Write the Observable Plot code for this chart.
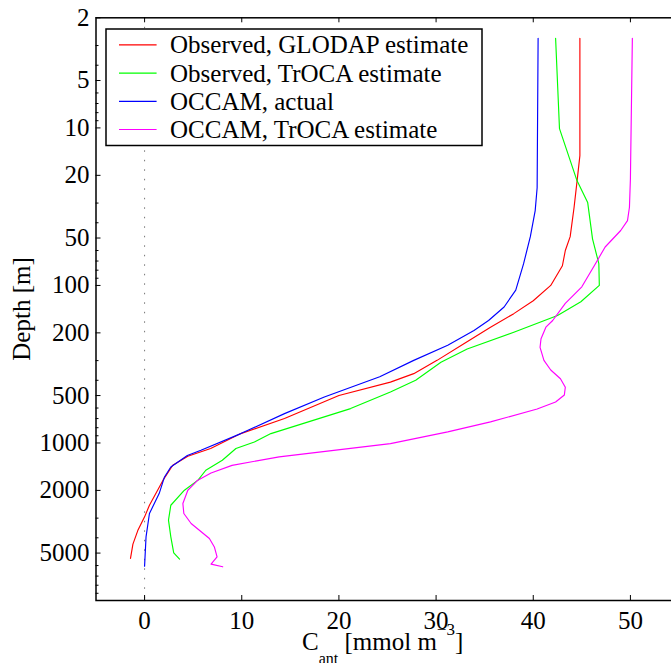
<!DOCTYPE html>
<html><head><meta charset="utf-8">
<script src="https://cdn.jsdelivr.net/npm/d3@7"></script>
<script src="https://cdn.jsdelivr.net/npm/@observablehq/plot@0.6"></script>
<style>
html,body{margin:0;padding:0;background:#fff;overflow:hidden;}
#wrap{position:relative;width:671px;height:663px;overflow:hidden;background:#fff;}
</style></head><body><div id="wrap"></div>
<script>
const seriesNames = ["Observed, GLODAP estimate", "Observed, TrOCA estimate", "OCCAM, actual", "OCCAM, TrOCA estimate"];
const seriesColors = ["#ff0000", "#00ff00", "#0000ff", "#ff00ff"];

const glodapDepth = [2.7, 15, 22, 32, 49, 60, 75, 100, 125, 151, 184, 234, 299, 363, 411, 500, 700, 872, 1084, 1213, 1384, 1722, 2485, 2945, 3600, 4390, 5410];
const glodapValue = [44.8, 44.8, 44.5, 44.2, 43.8, 43.3, 43.0, 41.8, 40.0, 38.0, 35.6, 32.9, 30.1, 27.7, 25.3, 20.0, 14.4, 9.9, 6.8, 4.45, 2.9, 1.9, 0.5, 0.0, -0.7, -1.2, -1.45];

const trocaObsDepth = [2.7, 10.1, 21.6, 29.7, 50.6, 72.8, 100, 127, 155, 198, 253, 307, 400, 475, 605, 872, 985, 1084, 1288, 1490, 1722, 1995, 2485, 3090, 3945, 4980, 5460];
const trocaObsValue = [42.3, 42.7, 44.5, 45.6, 46.1, 46.75, 46.8, 44.9, 42.5, 38.0, 33.2, 30.5, 27.9, 25.3, 21.2, 13.0, 11.3, 9.4, 8.0, 6.3, 5.5, 4.1, 2.7, 2.46, 2.7, 3.0, 3.6];

const occamDepth = [2.7, 24, 33.5, 49, 73, 107, 137, 167, 193, 240, 299, 380, 511, 651, 872, 1111, 1200, 1420, 1643, 2095, 2805, 3945, 6050];
const occamValue = [40.5, 40.4, 40.2, 39.7, 39.0, 38.2, 37.0, 35.4, 33.9, 31.2, 27.7, 24.2, 18.5, 14.4, 9.9, 5.8, 4.4, 2.7, 2.05, 1.5, 0.5, 0.15, 0.0];

const trocaModDepth = [2.7, 21, 31.9, 38.8, 44.8, 57, 72.8, 102, 130, 167, 184, 218, 247, 299, 344, 391, 443, 496, 550, 609, 735, 850, 1010, 1225, 1387, 1550, 1722, 1995, 2420, 2805, 3245, 4040, 4570, 5280, 5880, 6110];
const trocaModValue = [50.2, 50.0, 49.9, 49.7, 49.0, 47.4, 46.4, 45.0, 43.3, 42.0, 41.3, 40.8, 40.7, 41.1, 41.8, 42.8, 43.3, 43.2, 42.3, 40.4, 35.6, 31.2, 25.3, 13.85, 9.0, 6.84, 5.48, 4.45, 3.94, 4.04, 4.79, 6.67, 7.18, 7.46, 6.84, 8.04];

const xTicks = [0, 10, 20, 30, 40, 50];
const yTicks = [2, 5, 10, 20, 50, 100, 200, 500, 1000, 2000, 5000];
const yMinorTicks = [3, 4, 6, 7, 8, 9, 30, 40, 60, 70, 80, 90, 300, 400, 600, 700, 800, 900, 3000, 4000, 6000, 7000, 8000, 9000];

const depthArrays = [glodapDepth, trocaObsDepth, occamDepth, trocaModDepth];
const valueArrays = [glodapValue, trocaObsValue, occamValue, trocaModValue];
const seriesData = depthArrays.map((ds, i) => ds.map((d, j) => ({depth: d, value: valueArrays[i][j]})));

const FONT = "'Liberation Serif', 'Times New Roman', serif";

const W = 681, H = 663, ML = 95.5, MR = 2.5, MT = 17.3, MB = 63;
const frameW = W - ML - MR, frameH = H - MT - MB;
const majorLen = 5, minorLen = 3;

const plot = Plot.plot({
  width: W,
  height: H,
  marginLeft: ML,
  marginRight: MR,
  marginTop: MT,
  marginBottom: MB,
  style: {fontFamily: FONT, fontSize: "25px", background: "white", color: "black"},
  x: {domain: [-5, 55]},
  y: {type: "log", domain: [2, 10000], reverse: true, axis: null},
  marks: [
    Plot.ruleX([0], {stroke: "#777", strokeWidth: 1, strokeDasharray: "1.5,8"}),
    ...seriesData.map((d, i) => Plot.line(d, {x: "value", y: "depth", stroke: seriesColors[i], strokeWidth: 1.15})),
    // inward ticks
    Plot.ruleX(xTicks, {x: d => d, stroke: "black", strokeWidth: 1, insetTop: frameH - majorLen}),
    Plot.ruleX(xTicks, {x: d => d, stroke: "black", strokeWidth: 1, insetBottom: frameH - majorLen}),
    Plot.ruleY(yTicks, {y: d => d, stroke: "black", strokeWidth: 1, insetRight: frameW - majorLen}),
    Plot.ruleY(yMinorTicks, {y: d => d, stroke: "black", strokeWidth: 1, insetRight: frameW - minorLen}),
    Plot.frame({stroke: "black", strokeWidth: 1.5}),
    Plot.axisX(xTicks, {anchor: "bottom", tickSize: 0, tickPadding: 11, label: null}),
    Plot.text(yTicks, {y: d => d, text: d => String(d), frameAnchor: "left", textAnchor: "end", dx: -6.5, fill: "black"})
  ]
});
plot.style.maxWidth = "none";
plot.style.width = W + "px";
plot.style.height = H + "px";
plot.style.display = "block";

const svg = d3.select(plot);
svg.append("text")
  .attr("transform", "translate(30,309) rotate(-90)")
  .attr("text-anchor", "middle")
  .attr("font-size", 25)
  .attr("fill", "black")
  .text("Depth [m]");

const xl = svg.append("text").attr("x", 302).attr("y", 650).attr("font-size", 25)
  .attr("text-anchor", "start").attr("fill", "black");
xl.append("tspan").text("C");
xl.append("tspan").attr("font-size", 16).attr("dy", 14).text("ant");
xl.append("tspan").attr("dy", -14).text(" [mmol m");
xl.append("tspan").attr("font-size", 17).attr("dy", -15).text("\u22123");
xl.append("tspan").attr("dy", 15).text("]");

const wrap = document.getElementById("wrap");
wrap.appendChild(plot);

// legend box overlay
const leg = d3.select(wrap).append("svg")
  .attr("width", 380).attr("height", 120)
  .style("position", "absolute").style("left", "105px").style("top", "27.5px")
  .style("font-family", FONT).style("font-size", "25px");
leg.append("rect").attr("x", 1).attr("y", 1).attr("width", 376).attr("height", 116.5)
  .attr("fill", "white").attr("stroke", "black").attr("stroke-width", 1.5);
seriesNames.forEach((name, i) => {
  const cy = 16.9 + i * 28.2;
  leg.append("line").attr("x1", 14).attr("x2", 51.6).attr("y1", cy).attr("y2", cy)
    .attr("stroke", seriesColors[i]).attr("stroke-width", 1.15);
  leg.append("text").attr("x", 65).attr("y", cy + 8.5).attr("fill", "black").text(name);
});
</script></body></html>
